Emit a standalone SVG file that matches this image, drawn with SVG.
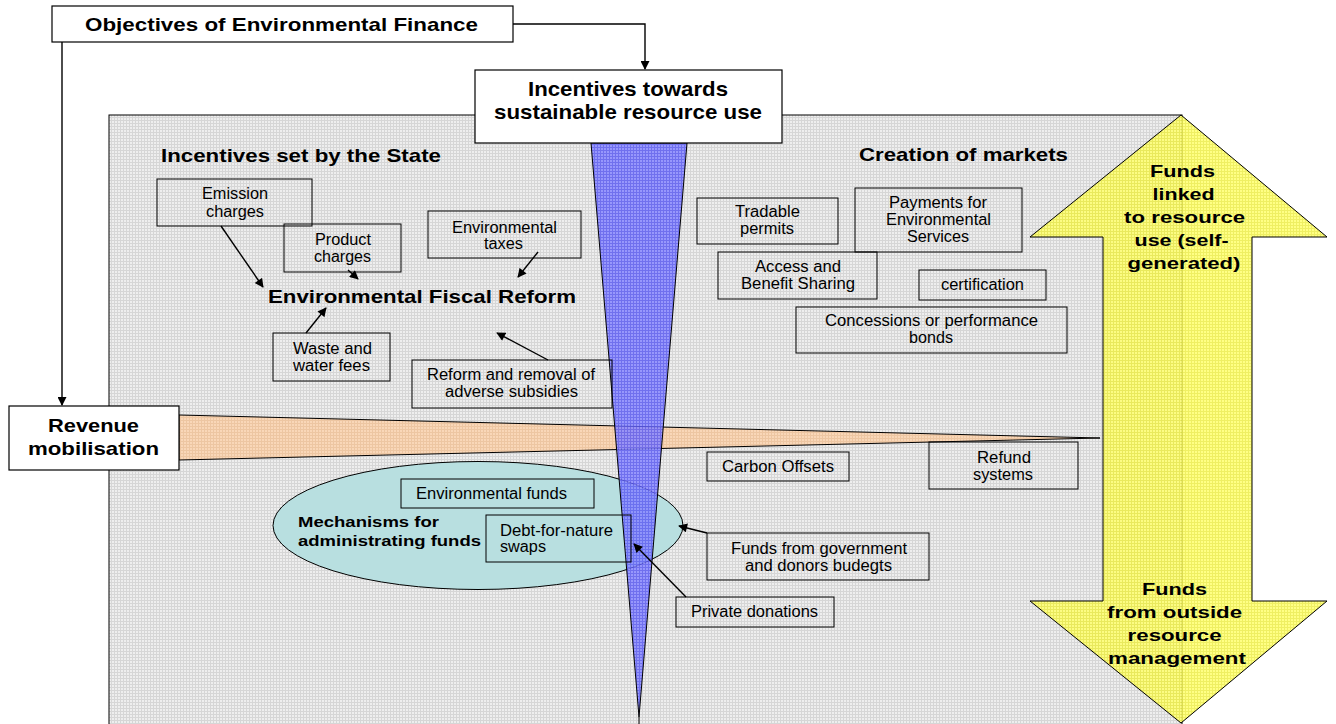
<svg xmlns="http://www.w3.org/2000/svg" width="1336" height="724" viewBox="0 0 1336 724">
<defs>
<pattern id="grid" width="3" height="3" patternUnits="userSpaceOnUse">
<rect width="3" height="3" fill="#eeeeee"/>
<rect width="3" height="1" fill="#d6d6d6"/>
<rect width="1" height="3" fill="#d6d6d6"/>
</pattern>
<pattern id="bgrid" width="3" height="3" patternUnits="userSpaceOnUse">
<rect width="3" height="3" fill="#8888ff"/>
<rect width="3" height="1" fill="#5e5ef2"/>
<rect width="1" height="3" fill="#5e5ef2"/>
</pattern>
<pattern id="ygrid" width="3" height="3" patternUnits="userSpaceOnUse">
<rect width="3" height="3" fill="#ffff70"/>
<rect width="3" height="1" fill="#ecec48"/>
<rect width="1" height="3" fill="#ecec48"/>
</pattern>
<pattern id="ogrid" width="3" height="3" patternUnits="userSpaceOnUse">
<rect width="3" height="3" fill="#fad4b2"/>
<rect width="3" height="1" fill="#f0c49c"/>
<rect width="1" height="3" fill="#f0c49c"/>
</pattern>
<marker id="ah" viewBox="0 0 10 10" refX="9" refY="5" markerWidth="10" markerHeight="9" orient="auto" markerUnits="userSpaceOnUse">
<path d="M0,0 L10,5 L0,10 z" fill="#000"/>
</marker>
</defs>
<style>
.t{font-family:"Liberation Sans",Arial,sans-serif;font-size:16px;fill:#000}
.b{font-family:"Liberation Sans",Arial,sans-serif;font-weight:bold;fill:#000}
.bx{fill:none;stroke:#000;stroke-width:1}
.wb{fill:#fff;stroke:#000;stroke-width:1.2}
.ln{fill:none;stroke:#000;stroke-width:1.4}
</style>
<rect width="1336" height="724" fill="#fff"/>
<g id="panel">
<rect x="109" y="115" width="1073" height="620" fill="url(#grid)" stroke="#000" stroke-width="1"/>
</g>
<g id="revenue-wedge">
<polygon points="179,415 1100,438 179,460" fill="url(#ogrid)" fill-opacity="0.9" stroke="#000" stroke-width="1"/>
</g>
<g id="mechanisms">
<ellipse cx="478" cy="525.5" rx="205" ry="64" fill="#b8dfe0" stroke="#000" stroke-width="1"/>
</g>
<g id="funnel">
<polygon points="591,143 687,143 639,717" fill="url(#bgrid)" fill-opacity="0.85" stroke="#000" stroke-width="1"/>
<line x1="639" y1="717" x2="639" y2="724" stroke="#000" stroke-width="1"/>
</g>
<g id="funds-arrow">
<polygon points="1181,115 1327,237 1252,237 1252,601 1327,601 1181,723 1030,601 1103,601 1103,237 1030,237" fill="url(#ygrid)" fill-opacity="0.85" stroke="#000" stroke-width="1"/>
<text class="b" font-size="17" text-anchor="middle">
<tspan x="1185" y="177" textLength="65" lengthAdjust="spacingAndGlyphs">Funds</tspan>
<tspan x="1186" y="200" textLength="62" lengthAdjust="spacingAndGlyphs">linked</tspan>
<tspan x="1187" y="223" textLength="121" lengthAdjust="spacingAndGlyphs">to resource</tspan>
<tspan x="1184" y="246" textLength="94" lengthAdjust="spacingAndGlyphs">use (self-</tspan>
<tspan x="1184" y="269" textLength="113" lengthAdjust="spacingAndGlyphs">generated)</tspan>
</text>
<text class="b" font-size="17" text-anchor="middle">
<tspan x="1177" y="595" textLength="65" lengthAdjust="spacingAndGlyphs">Funds</tspan>
<tspan x="1177" y="618" textLength="135" lengthAdjust="spacingAndGlyphs">from outside</tspan>
<tspan x="1177" y="641" textLength="94" lengthAdjust="spacingAndGlyphs">resource</tspan>
<tspan x="1177" y="664" textLength="138" lengthAdjust="spacingAndGlyphs">management</tspan>
</text>
</g>
<g id="objectives">
<rect class="wb" x="52" y="6" width="461" height="36"/>
<text class="b" font-size="19" x="85" y="31" textLength="393" lengthAdjust="spacingAndGlyphs">Objectives of Environmental Finance</text>
</g>
<g id="incentives">
<rect class="wb" x="475" y="70" width="307" height="73"/>
<text class="b" font-size="21">
<tspan x="528" y="96" textLength="200" lengthAdjust="spacingAndGlyphs">Incentives towards</tspan>
<tspan x="494" y="119" textLength="268" lengthAdjust="spacingAndGlyphs">sustainable resource use</tspan>
</text>
</g>
<g id="revenue">
<rect class="wb" x="9" y="406" width="170" height="64"/>
<text class="b" font-size="19">
<tspan x="48" y="432" textLength="91" lengthAdjust="spacingAndGlyphs">Revenue</tspan>
<tspan x="28" y="455" textLength="131" lengthAdjust="spacingAndGlyphs">mobilisation</tspan>
</text>
</g>
<g id="headings">
<text class="b" font-size="19" x="161" y="162" textLength="280" lengthAdjust="spacingAndGlyphs">Incentives set by the State</text>
<text class="b" font-size="19" x="859" y="161" textLength="209" lengthAdjust="spacingAndGlyphs">Creation of markets</text>
</g>
<g id="efr"><text class="b" font-size="19" x="268" y="303" textLength="308" lengthAdjust="spacingAndGlyphs">Environmental Fiscal Reform</text></g>
<g id="emission"><rect class="bx" x="157" y="179" width="155" height="47"/><text class="t"><tspan x="202" y="199" textLength="66" lengthAdjust="spacingAndGlyphs">Emission</tspan><tspan x="206" y="217" textLength="58" lengthAdjust="spacingAndGlyphs">charges</tspan></text></g>
<g id="product"><rect class="bx" x="284" y="224" width="117" height="48"/><text class="t"><tspan x="315" y="245" textLength="56" lengthAdjust="spacingAndGlyphs">Product</tspan><tspan x="314" y="262" textLength="57" lengthAdjust="spacingAndGlyphs">charges</tspan></text></g>
<g id="envtaxes"><rect class="bx" x="428" y="211" width="153" height="47"/><text class="t"><tspan x="452" y="233" textLength="105" lengthAdjust="spacingAndGlyphs">Environmental</tspan><tspan x="484" y="249" textLength="39" lengthAdjust="spacingAndGlyphs">taxes</tspan></text></g>
<g id="waste"><rect class="bx" x="273" y="333" width="117" height="48"/><text class="t"><tspan x="293" y="354" textLength="79" lengthAdjust="spacingAndGlyphs">Waste and</tspan><tspan x="293" y="371" textLength="77" lengthAdjust="spacingAndGlyphs">water fees</tspan></text></g>
<g id="reform"><rect class="bx" x="412" y="360" width="200" height="48"/><text class="t"><tspan x="427" y="380" textLength="168" lengthAdjust="spacingAndGlyphs">Reform and removal of</tspan><tspan x="445" y="397" textLength="133" lengthAdjust="spacingAndGlyphs">adverse subsidies</tspan></text></g>
<g id="tradable"><rect class="bx" x="697" y="198" width="141" height="46"/><text class="t"><tspan x="735" y="217" textLength="65" lengthAdjust="spacingAndGlyphs">Tradable</tspan><tspan x="740" y="234" textLength="54" lengthAdjust="spacingAndGlyphs">permits</tspan></text></g>
<g id="pes"><rect class="bx" x="855" y="188" width="167" height="64"/><text class="t"><tspan x="889" y="208" textLength="98" lengthAdjust="spacingAndGlyphs">Payments for</tspan><tspan x="886" y="225" textLength="105" lengthAdjust="spacingAndGlyphs">Environmental</tspan><tspan x="907" y="242" textLength="62" lengthAdjust="spacingAndGlyphs">Services</tspan></text></g>
<g id="abs"><rect class="bx" x="718" y="252" width="159" height="47"/><text class="t"><tspan x="755" y="272" textLength="86" lengthAdjust="spacingAndGlyphs">Access and</tspan><tspan x="741" y="289" textLength="114" lengthAdjust="spacingAndGlyphs">Benefit Sharing</tspan></text></g>
<g id="cert"><rect class="bx" x="919" y="270" width="127" height="30"/><text class="t" x="941" y="290" textLength="83" lengthAdjust="spacingAndGlyphs">certification</text></g>
<g id="concessions"><rect class="bx" x="796" y="307" width="271" height="46"/><text class="t"><tspan x="825" y="326" textLength="213" lengthAdjust="spacingAndGlyphs">Concessions or performance</tspan><tspan x="909" y="343" textLength="44" lengthAdjust="spacingAndGlyphs">bonds</tspan></text></g>
<g id="carbon"><rect class="bx" x="707" y="452" width="142" height="29"/><text class="t" x="722" y="472" textLength="112" lengthAdjust="spacingAndGlyphs">Carbon Offsets</text></g>
<g id="refund"><rect class="bx" x="929" y="442" width="149" height="47"/><text class="t"><tspan x="977" y="463" textLength="54" lengthAdjust="spacingAndGlyphs">Refund</tspan><tspan x="973" y="480" textLength="60" lengthAdjust="spacingAndGlyphs">systems</tspan></text></g>
<g id="govfunds"><rect class="bx" x="707" y="533" width="222" height="47"/><text class="t"><tspan x="731" y="554" textLength="176" lengthAdjust="spacingAndGlyphs">Funds from government</tspan><tspan x="745" y="571" textLength="147" lengthAdjust="spacingAndGlyphs">and donors budegts</tspan></text></g>
<g id="private"><rect class="bx" x="676" y="597" width="158" height="30"/><text class="t" x="691" y="617" textLength="127" lengthAdjust="spacingAndGlyphs">Private donations</text></g>
<g id="envfunds"><rect class="bx" x="401" y="479" width="193" height="29"/><text class="t" x="416" y="499" textLength="151" lengthAdjust="spacingAndGlyphs">Environmental funds</text></g>
<g id="debt"><rect class="bx" x="486" y="515" width="145" height="47"/><text class="t"><tspan x="500" y="536" textLength="113" lengthAdjust="spacingAndGlyphs">Debt-for-nature</tspan><tspan x="500" y="552" textLength="46" lengthAdjust="spacingAndGlyphs">swaps</tspan></text></g>
<g id="mech-label"><text class="b" font-size="15"><tspan x="298" y="527" textLength="141" lengthAdjust="spacingAndGlyphs">Mechanisms for</tspan><tspan x="298" y="546" textLength="183" lengthAdjust="spacingAndGlyphs">administrating funds</tspan></text></g>
<g id="connectors">
<polyline class="ln" points="513,24 645,24 645,69" marker-end="url(#ah)"/>
<polyline class="ln" points="62,42 62,405" marker-end="url(#ah)"/>
<line class="ln" x1="221" y1="226" x2="263" y2="287" marker-end="url(#ah)"/>
<line class="ln" x1="348" y1="270" x2="358" y2="279" marker-end="url(#ah)"/>
<line class="ln" x1="538" y1="252" x2="518" y2="277" marker-end="url(#ah)"/>
<line class="ln" x1="306" y1="333" x2="326" y2="308" marker-end="url(#ah)"/>
<line class="ln" x1="548" y1="360" x2="497" y2="333" marker-end="url(#ah)"/>
<line class="ln" x1="707" y1="533" x2="679" y2="526" marker-end="url(#ah)"/>
<line class="ln" x1="686" y1="597" x2="634" y2="544" marker-end="url(#ah)"/>
</g>
</svg>
